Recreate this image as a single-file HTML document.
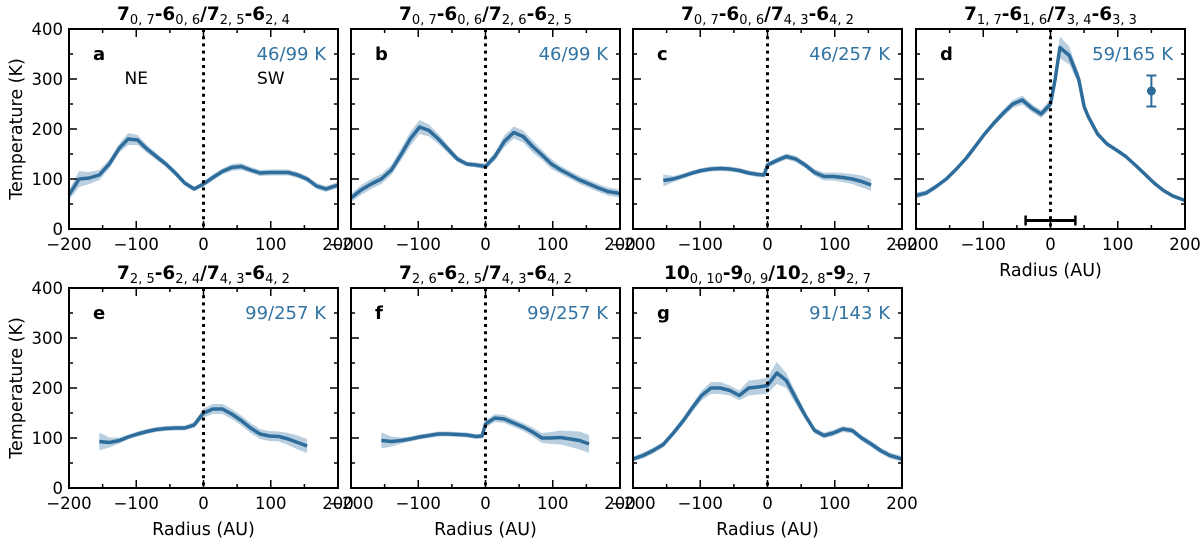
<!DOCTYPE html>
<html><head><meta charset="utf-8">
<style>
html,body{margin:0;padding:0;background:#fff;}
svg{display:block;font-family:"DejaVu Sans","Liberation Sans",sans-serif;}
</style></head>
<body>
<svg id="chart" width="1200" height="544" viewBox="0 0 1200 544" xmlns="http://www.w3.org/2000/svg"></svg>
<script>
// ---- data ----
const xA=[-200,-185,-170,-155,-140,-125,-112,-98,-84,-70,-56,-42,-28,-14,0,14,28,42,56,70,84,98,112,126,140,154,168,182,200];
const yA=[68,100,102,108,130,162,180,178,160,145,130,112,92,80,90,103,115,123,125,118,112,113,113,113,108,100,86,80,88];
const eA=[10,16,12,10,9,9,12,10,8,7,6,6,5,5,5,6,6,7,7,6,6,6,6,6,6,6,6,6,6];
const xB=[-200,-185,-170,-155,-140,-125,-112,-98,-84,-70,-56,-42,-28,-14,0,14,28,42,56,70,84,98,112,126,140,154,168,182,200];
const yB=[62,78,90,100,118,150,180,204,197,180,160,140,130,128,125,145,175,193,185,165,148,130,118,108,98,90,82,75,71];
const eB=[8,10,10,10,10,12,14,14,12,10,8,6,5,5,6,8,12,12,12,12,10,10,8,8,8,8,8,8,8];
const xC=[-155,-140,-125,-112,-98,-84,-70,-56,-42,-28,-14,-5,0,14,28,42,56,70,84,98,112,126,140,154];
const yC=[97,100,106,112,117,120,121,120,117,112,109,108,128,137,145,140,128,113,105,105,103,100,95,88];
const eC=[12,6,5,5,5,5,5,5,5,5,5,5,5,6,6,6,6,7,8,8,9,10,12,12];
const xD=[-200,-185,-170,-155,-140,-125,-112,-98,-84,-70,-56,-42,-28,-14,0,7,14,28,42,50,56,70,84,98,112,126,140,154,168,182,200];
const yD=[67,72,85,100,120,142,165,190,212,232,250,258,242,230,250,300,363,347,300,245,225,190,170,158,145,128,110,92,77,66,57];
const eD=[6,5,5,4,4,4,4,5,6,7,8,9,8,8,10,14,22,18,12,8,6,5,4,4,4,4,4,4,4,4,4];
const xE=[-155,-140,-125,-112,-98,-84,-70,-56,-42,-28,-14,0,14,28,42,56,70,84,98,112,126,140,154];
const yE=[93,91,95,102,108,113,117,119,120,120,126,150,158,158,148,135,120,108,104,103,98,91,84];
const eE=[18,10,6,5,5,5,5,5,5,5,6,9,10,10,10,10,10,10,10,10,12,14,14];
const xF=[-155,-140,-125,-112,-98,-84,-70,-56,-42,-28,-14,-5,0,14,28,42,56,70,84,98,112,126,140,154];
const yF=[95,93,95,98,102,105,108,108,107,106,103,104,128,140,138,130,122,112,100,100,101,98,95,88];
const eF=[16,10,6,5,5,5,5,5,5,5,5,5,7,8,8,8,8,9,10,12,14,16,18,18];
const xG=[-200,-185,-170,-155,-140,-125,-112,-98,-84,-70,-56,-42,-28,-14,0,14,28,42,56,70,84,98,112,126,140,154,168,182,200];
const yG=[58,65,75,87,110,135,160,185,200,200,195,185,200,202,205,230,215,180,145,115,105,110,118,115,100,88,75,65,58];
const eG=[5,6,6,6,6,7,8,10,12,12,10,10,15,15,16,22,15,12,8,6,6,6,6,6,6,6,6,6,6];
const xTicks=[-200,-100,0,100,200];
const yTicks=[0,100,200,300,400];

const panels=[
 {id:'a',x:xA,y:yA,e:eA,L:69,T:29,ann:'46/99 K',title:[['7','0, 7'],['-6','0, 6'],['/7','2, 5'],['-6','2, 4']],ylab:true,xlab:false,nesw:true},
 {id:'b',x:xB,y:yB,e:eB,L:351,T:29,ann:'46/99 K',title:[['7','0, 7'],['-6','0, 6'],['/7','2, 6'],['-6','2, 5']]},
 {id:'c',x:xC,y:yC,e:eC,L:633,T:29,ann:'46/257 K',title:[['7','0, 7'],['-6','0, 6'],['/7','4, 3'],['-6','4, 2']]},
 {id:'d',x:xD,y:yD,e:eD,L:916,T:29,ann:'59/165 K',title:[['7','1, 7'],['-6','1, 6'],['/7','3, 4'],['-6','3, 3']],xlab:true,extra:true},
 {id:'e',x:xE,y:yE,e:eE,L:69,T:288,ann:'99/257 K',title:[['7','2, 5'],['-6','2, 4'],['/7','4, 3'],['-6','4, 2']],ylab:true,xlab:true},
 {id:'f',x:xF,y:yF,e:eF,L:351,T:288,ann:'99/257 K',title:[['7','2, 6'],['-6','2, 5'],['/7','4, 3'],['-6','4, 2']],xlab:true},
 {id:'g',x:xG,y:yG,e:eG,L:633,T:288,ann:'91/143 K',title:[['10','0, 10'],['-9','0, 9'],['/10','2, 8'],['-9','2, 7']],xlab:true}
];
const W=269,H=200;
const NS='http://www.w3.org/2000/svg';
const svg=document.getElementById('chart');
function mk(tag,attrs,parent){const e=document.createElementNS(NS,tag);for(const k in attrs)e.setAttribute(k,attrs[k]);(parent||svg).appendChild(e);return e;}
const LINE='#2e6d9b',BAND='#b9cfe0',ANN='#3174a4';

panels.forEach(p=>{
 const g=mk('g',{});
 
 
 const sx=v=>p.L+(v+200)/400*W;
 const sy=v=>p.T+H-(v/400)*H;
 let d='';
 p.x.forEach((v,i)=>{d+=(i?'L':'M')+sx(v).toFixed(1)+','+sy(p.y[i]+p.e[i]).toFixed(1);});
 for(let i=p.x.length-1;i>=0;i--)d+='L'+sx(p.x[i]).toFixed(1)+','+sy(Math.max(0,p.y[i]-p.e[i])).toFixed(1);
 const band=mk('path',{d:d+'Z',fill:BAND,stroke:'none'},g);
 
 
 const pts=p.x.map((v,i)=>sx(v).toFixed(1)+','+sy(p.y[i]).toFixed(1)).join(' ');
 const ln=mk('polyline',{points:pts,fill:'none',stroke:LINE,'stroke-width':3.5,'stroke-linejoin':'round'},g);
 
 
 const zl=mk('line',{x1:sx(0),x2:sx(0),y1:p.T,y2:p.T+H,stroke:'#000','stroke-width':3,'stroke-dasharray':'3,4.2'},g);
 
 
 for(let v=-200;v<=200;v+=50){const len=v%100===0?8:4;
  mk('line',{x1:sx(v),x2:sx(v),y1:p.T+H,y2:p.T+H-len,stroke:'#000','stroke-width':1.5},g);
  mk('line',{x1:sx(v),x2:sx(v),y1:p.T,y2:p.T+len,stroke:'#000','stroke-width':1.5},g);}
 for(let v=0;v<=400;v+=50){const len=v%100===0?8:4;
  mk('line',{x1:p.L,x2:p.L+len,y1:sy(v),y2:sy(v),stroke:'#000','stroke-width':1.5},g);
  mk('line',{x1:p.L+W,x2:p.L+W-len,y1:sy(v),y2:sy(v),stroke:'#000','stroke-width':1.5},g);}
 const fr=mk('rect',{x:p.L,y:p.T,width:W,height:H,fill:'none',stroke:'#000','stroke-width':2},g);
 
 
 xTicks.forEach(v=>{const t=mk('text',{x:sx(v),y:p.T+H+21,'font-size':16.5,'text-anchor':'middle'},g);t.textContent=v<0?'\u2212'+(-v):String(v);
  
  });
 if(p.ylab){yTicks.forEach(v=>{const t=mk('text',{x:p.L-6,y:sy(v)+6,'font-size':16.5,'text-anchor':'end'},g);t.textContent=v;
  
  });
  const yl=mk('text',{x:0,y:0,'font-size':17.5,'text-anchor':'middle',transform:'translate(22,'+(p.T+H/2)+') rotate(-90)'},g);yl.textContent='Temperature (K)';
  
  }
 if(p.xlab){const xl=mk('text',{x:p.L+W/2,y:p.T+H+47,'font-size':17.5,'text-anchor':'middle'},g);xl.textContent='Radius (AU)';
  
  }
 const lt=mk('text',{x:p.L+24,y:p.T+31,'font-size':18,'font-weight':'bold'},g);lt.textContent=p.id;
 
 
 const an=mk('text',{x:p.L+W-12,y:p.T+31,'font-size':18,fill:ANN,'text-anchor':'end'},g);an.textContent=p.ann;
 
 
 const tt=mk('text',{x:p.L+W/2,y:p.T-9,'font-size':18.5,'font-weight':'bold','text-anchor':'middle'},g);
 
 
 p.title.forEach(([m,s])=>{const a=mk('tspan',{},tt);a.textContent=m;
  const b=mk('tspan',{'font-size':13,'font-weight':'normal',dy:4},tt);b.textContent=s;
  const c=mk('tspan',{dy:-4,'font-size':18.5},tt);c.textContent='\u200b';});
 if(p.nesw){
  const ne=mk('text',{x:sx(-100),y:sy(290),'font-size':17,'text-anchor':'middle'},g);ne.textContent='NE';
  
  
  const sw=mk('text',{x:sx(100),y:sy(290),'font-size':17,'text-anchor':'middle'},g);sw.textContent='SW';
  
  }
 if(p.extra){
  const eb=mk('g',{},g);
  
  
  mk('line',{x1:sx(150),x2:sx(150),y1:sy(307),y2:sy(245),stroke:LINE,'stroke-width':2},eb);
  mk('line',{x1:sx(150)-5,x2:sx(150)+5,y1:sy(307),y2:sy(307),stroke:LINE,'stroke-width':2},eb);
  mk('line',{x1:sx(150)-5,x2:sx(150)+5,y1:sy(245),y2:sy(245),stroke:LINE,'stroke-width':2},eb);
  mk('circle',{cx:sx(150),cy:sy(276),r:4.5,fill:LINE},eb);
  const bm=mk('g',{},g);
  
  
  mk('line',{x1:sx(-37),x2:sx(37),y1:sy(17),y2:sy(17),stroke:'#000','stroke-width':3},bm);
  mk('line',{x1:sx(-37),x2:sx(-37),y1:sy(17)-5,y2:sy(17)+5,stroke:'#000','stroke-width':2.5},bm);
  mk('line',{x1:sx(37),x2:sx(37),y1:sy(17)-5,y2:sy(17)+5,stroke:'#000','stroke-width':2.5},bm);
 }
});
</script>
</body></html>
